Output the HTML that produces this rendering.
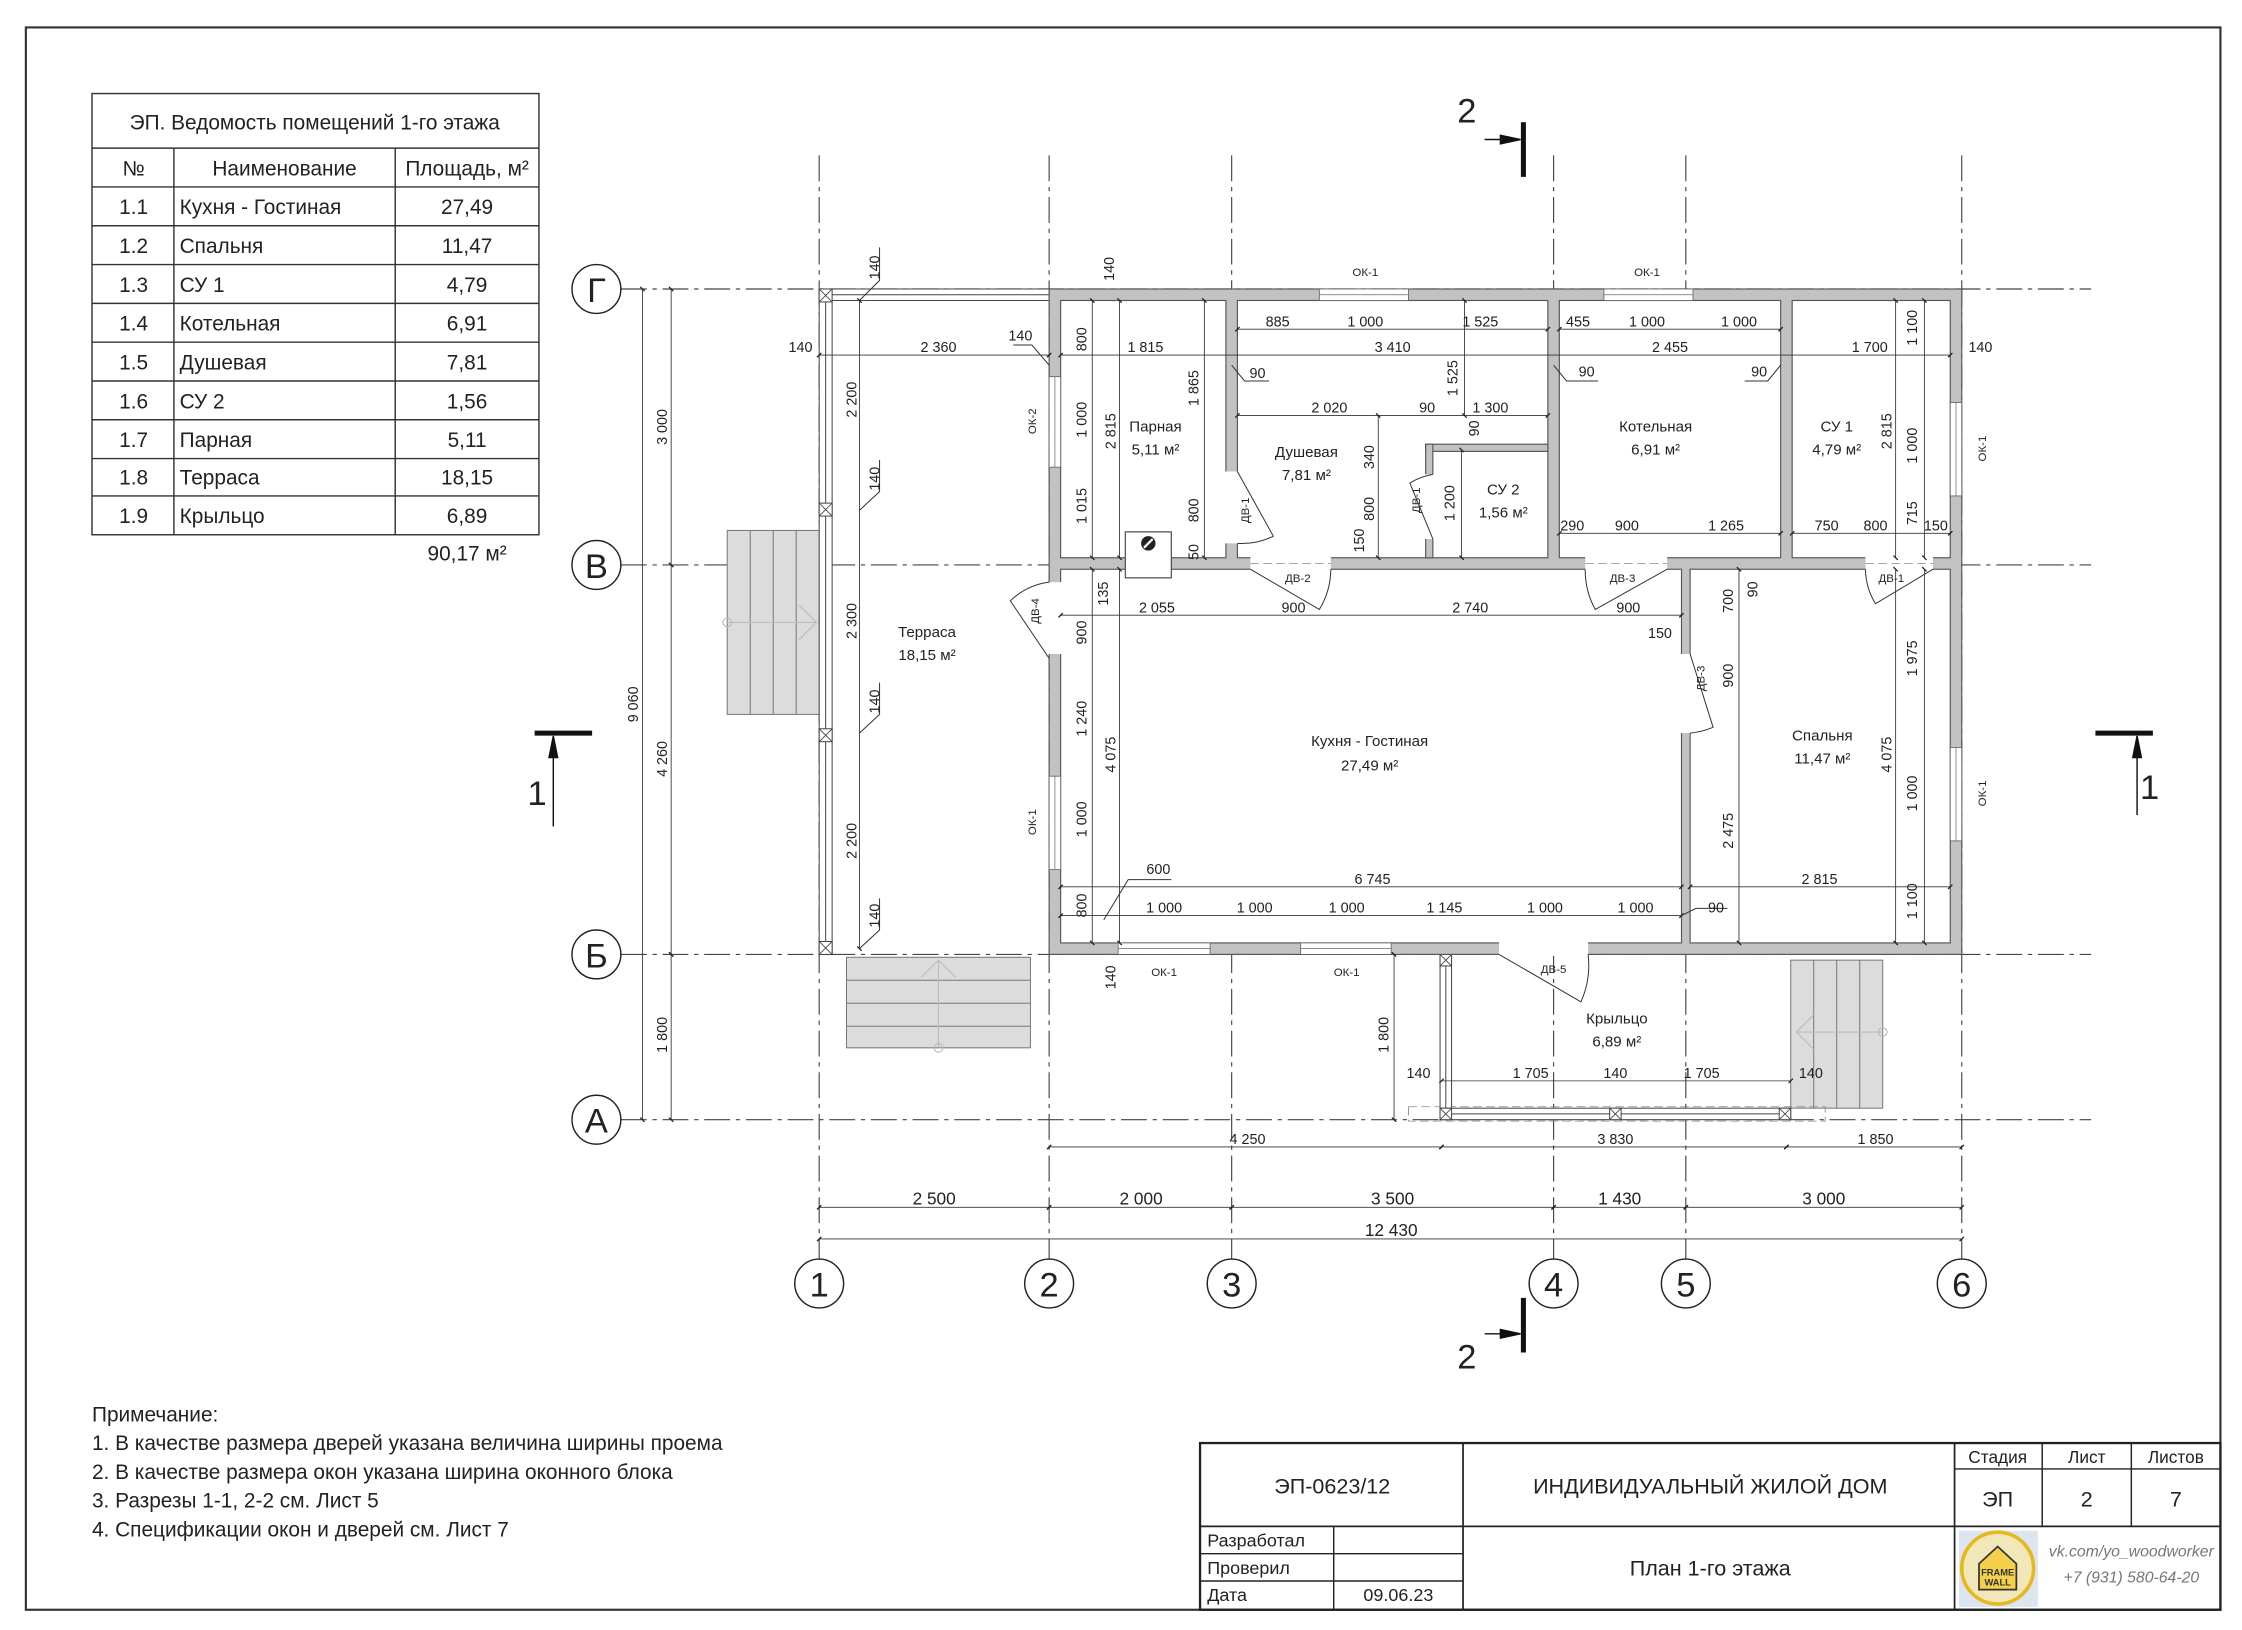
<!DOCTYPE html>
<html><head><meta charset="utf-8"><style>
html,body{margin:0;padding:0;background:#fff}
svg{display:block}
text{font-family:"Liberation Sans Narrow","Liberation Sans",sans-serif;fill:#222}
.d{font-size:10px;text-anchor:middle}
.r{font-size:10.5px;fill:#2a2a90;text-anchor:middle}
.dl{stroke:#333;stroke-width:.6;fill:none;marker-start:url(#t);marker-end:url(#t)}
.ax{stroke:#444;stroke-width:.8;stroke-dasharray:18 4 3 4;fill:none}
.th{stroke:#333;stroke-width:.7;fill:none}
.w{fill:#c2c2c2;stroke:#555;stroke-width:.8}
.rm{fill:#fff;stroke:#555;stroke-width:.8}
.op{fill:#fff;stroke:#666;stroke-width:.6}
.dr{fill:none;stroke:#333;stroke-width:.7}
.c{fill:#fff;stroke:#222;stroke-width:1}
.cl{font-size:24px;text-anchor:middle}
.tb{font-size:14px}
</style></head><body>
<svg width="2242" height="1630" viewBox="0 0 1560 1134" xmlns="http://www.w3.org/2000/svg">
<defs><marker id="t" markerUnits="userSpaceOnUse" markerWidth="6" markerHeight="6" refX="3" refY="3" orient="auto"><path d="M1.5,4.5 L4.5,1.5" stroke="#222" stroke-width="0.9"/></marker></defs>
<rect x="18" y="19" width="1527" height="1101" fill="none" stroke="#333" stroke-width="1.5"/>

<!-- table -->
<g stroke="#333" stroke-width="1" fill="none">
<rect x="64" y="65" width="311" height="307"/>
<line x1="64" y1="103" x2="375" y2="103"/>
<line x1="121" y1="103" x2="121" y2="372"/><line x1="275" y1="103" x2="275" y2="372"/>
<line x1="64" y1="130" x2="375" y2="130"/><line x1="64" y1="157" x2="375" y2="157"/><line x1="64" y1="184" x2="375" y2="184"/><line x1="64" y1="211" x2="375" y2="211"/><line x1="64" y1="238" x2="375" y2="238"/><line x1="64" y1="265" x2="375" y2="265"/><line x1="64" y1="292" x2="375" y2="292"/><line x1="64" y1="319" x2="375" y2="319"/><line x1="64" y1="345" x2="375" y2="345"/>
</g>
<g font-size="14.5">
<text x="219" y="90" text-anchor="middle">ЭП. Ведомость помещений 1-го этажа</text>
<text x="93" y="122" text-anchor="middle">№</text><text x="198" y="122" text-anchor="middle">Наименование</text><text x="325" y="122" text-anchor="middle">Площадь, м²</text>
<g text-anchor="middle"><text x="93" y="149">1.1</text><text x="93" y="176">1.2</text><text x="93" y="203">1.3</text><text x="93" y="230">1.4</text><text x="93" y="257">1.5</text><text x="93" y="284">1.6</text><text x="93" y="311">1.7</text><text x="93" y="337">1.8</text><text x="93" y="364">1.9</text>
<text x="325" y="149">27,49</text><text x="325" y="176">11,47</text><text x="325" y="203">4,79</text><text x="325" y="230">6,91</text><text x="325" y="257">7,81</text><text x="325" y="284">1,56</text><text x="325" y="311">5,11</text><text x="325" y="337">18,15</text><text x="325" y="364">6,89</text>
<text x="325" y="390">90,17 м²</text></g>
<text x="125" y="149">Кухня - Гостиная</text><text x="125" y="176">Спальня</text><text x="125" y="203">СУ 1</text><text x="125" y="230">Котельная</text><text x="125" y="257">Душевая</text><text x="125" y="284">СУ 2</text><text x="125" y="311">Парная</text><text x="125" y="337">Терраса</text><text x="125" y="364">Крыльцо</text>
</g>

<!-- axes -->
<g class="ax">
<line x1="570" y1="108" x2="570" y2="876"/><line x1="730" y1="108" x2="730" y2="876"/><line x1="857" y1="108" x2="857" y2="876"/><line x1="1081" y1="108" x2="1081" y2="876"/><line x1="1173" y1="108" x2="1173" y2="876"/><line x1="1365" y1="108" x2="1365" y2="876"/>
<line x1="432" y1="201" x2="1455" y2="201"/><line x1="432" y1="393" x2="1455" y2="393"/><line x1="432" y1="664" x2="1455" y2="664"/><line x1="432" y1="779" x2="1455" y2="779"/>
</g>
<g><circle class="c" cx="570" cy="893" r="17"/><circle class="c" cx="730" cy="893" r="17"/><circle class="c" cx="857" cy="893" r="17"/><circle class="c" cx="1081" cy="893" r="17"/><circle class="c" cx="1173" cy="893" r="17"/><circle class="c" cx="1365" cy="893" r="17"/>
<circle class="c" cx="415" cy="201" r="17"/><circle class="c" cx="415" cy="393" r="17"/><circle class="c" cx="415" cy="664" r="17"/><circle class="c" cx="415" cy="779" r="17"/></g>
<g class="cl"><text x="570" y="902">1</text><text x="730" y="902">2</text><text x="857" y="902">3</text><text x="1081" y="902">4</text><text x="1173" y="902">5</text><text x="1365" y="902">6</text>
<text x="415" y="210">Г</text><text x="415" y="402">В</text><text x="415" y="673">Б</text><text x="415" y="788">А</text></g>

<!-- section marks -->
<g stroke="#111" fill="#111">
<line x1="1060" y1="85" x2="1060" y2="123" stroke-width="3.5"/><line x1="1033" y1="97" x2="1058" y2="97" stroke-width="1"/><path d="M1058,97 L1044,94 L1044,100Z"/>
<line x1="1060" y1="903" x2="1060" y2="941" stroke-width="3.5"/><line x1="1033" y1="928" x2="1058" y2="928" stroke-width="1"/><path d="M1058,928 L1044,925 L1044,931Z"/>
<line x1="372" y1="510" x2="412" y2="510" stroke-width="3.5"/><line x1="385" y1="512" x2="385" y2="575" stroke-width="1"/><path d="M385,512 L382,527 L388,527Z"/>
<line x1="1458" y1="510" x2="1498" y2="510" stroke-width="3.5"/><line x1="1487" y1="512" x2="1487" y2="567" stroke-width="1"/><path d="M1487,512 L1484,527 L1490,527Z"/>
</g>
<g font-size="24"><text x="1014" y="85">2</text><text x="1014" y="952">2</text><text x="367" y="560">1</text><text x="1489" y="556">1</text></g>

<!-- stairs -->
<g fill="#dcdcdc" stroke="#777" stroke-width=".7">
<rect x="506" y="369" width="64" height="128"/><line x1="522" y1="369" x2="522" y2="497"/><line x1="538" y1="369" x2="538" y2="497"/><line x1="554" y1="369" x2="554" y2="497"/>
<rect x="589" y="666" width="128" height="63"/><line x1="589" y1="682" x2="717" y2="682"/><line x1="589" y1="698" x2="717" y2="698"/><line x1="589" y1="714" x2="717" y2="714"/>
<rect x="1246" y="668" width="64" height="103"/><line x1="1262" y1="668" x2="1262" y2="771"/><line x1="1278" y1="668" x2="1278" y2="771"/><line x1="1294" y1="668" x2="1294" y2="771"/>
</g>
<g stroke="#bbb" stroke-width=".8" fill="none"><line x1="506" y1="433" x2="568" y2="433"/><path d="M556,421 L568,433 L556,445"/><circle cx="506" cy="433" r="3"/>
<line x1="653" y1="668" x2="653" y2="729"/><path d="M641,680 L653,668 L665,680"/><circle cx="653" cy="729" r="3"/>
<line x1="1250" y1="718" x2="1310" y2="718"/><path d="M1262,706 L1250,718 L1262,730"/><circle cx="1310" cy="718" r="3"/></g>

<!-- terrace railing -->
<g stroke="#444" stroke-width=".7" fill="#fff">
<rect x="570" y="201" width="9" height="463"/><line x1="574.5" y1="201" x2="574.5" y2="664"/>
<rect x="570" y="201" width="160" height="8"/><line x1="570" y1="205" x2="730" y2="205"/>
<rect x="570" y="201" width="9" height="9"/><rect x="570" y="350" width="9" height="9"/><rect x="570" y="507" width="9" height="9"/><rect x="570" y="655" width="9" height="9"/>
</g>
<g stroke="#444" stroke-width=".6"><path d="M570,201l9,9M579,201l-9,9M570,350l9,9M579,350l-9,9M570,507l9,9M579,507l-9,9M570,655l9,9M579,655l-9,9"/></g>

<!-- porch railing -->
<rect x="980" y="770" width="290" height="10" fill="none" stroke="#888" stroke-width=".6" stroke-dasharray="6 3"/>
<g stroke="#444" stroke-width=".7" fill="#fff">
<rect x="1002" y="664" width="8" height="115"/><line x1="1006" y1="664" x2="1006" y2="779"/>
<rect x="1002" y="771" width="244" height="8"/><line x1="1002" y1="775" x2="1246" y2="775"/>
<rect x="1002" y="664" width="8" height="8"/><rect x="1002" y="771" width="8" height="8"/><rect x="1120" y="771" width="8" height="8"/><rect x="1238" y="771" width="8" height="8"/>
</g>
<g stroke="#444" stroke-width=".6"><path d="M1002,664l8,8M1010,664l-8,8M1002,771l8,8M1010,771l-8,8M1120,771l8,8M1128,771l-8,8M1238,771l8,8M1246,771l-8,8"/></g>

<!-- building walls -->
<rect class="w" x="730" y="201" width="635" height="463"/>
<rect class="rm" x="738" y="209" width="115" height="179"/>
<rect class="rm" x="861" y="209" width="216" height="179"/>
<rect class="rm" x="1085" y="209" width="154" height="179"/>
<rect class="rm" x="1247" y="209" width="110" height="179"/>
<rect class="rm" x="738" y="396" width="432" height="260"/>
<rect class="rm" x="1176" y="396" width="181" height="260"/>
<rect class="w" x="992" y="309" width="85" height="5"/><rect class="w" x="992" y="309" width="5" height="79"/>
<!-- openings -->
<g class="op">
<rect x="918" y="201" width="62" height="8"/><rect x="1116" y="201" width="62" height="8"/>
<rect x="730" y="262" width="8" height="63"/><rect x="730" y="540" width="8" height="65"/>
<rect x="1357" y="280" width="8" height="65"/><rect x="1357" y="520" width="8" height="65"/>
<rect x="778" y="656" width="64" height="8"/><rect x="905" y="656" width="63" height="8"/>
</g>
<g stroke="#666" stroke-width=".5"><path d="M918,205H980M1116,205H1178M734,262V325M734,540V605M1361,280V345M1361,520V585M778,660H842M905,660H968"/></g>
<g fill="#fff" stroke="none">
<rect x="729" y="405" width="10" height="50"/><rect x="1043" y="655" width="62" height="10"/>
<rect x="870" y="387" width="56" height="10"/><rect x="1103" y="387" width="57" height="10"/><rect x="1298" y="387" width="47" height="10"/>
<rect x="852" y="328" width="10" height="50"/><rect x="991" y="330" width="7" height="45"/><rect x="1169" y="455" width="8" height="55"/>
</g>
<g stroke="#999" stroke-width=".6" stroke-dasharray="6 3"><path d="M870,392H926M1103,392H1160M1298,392H1345"/></g>
<!-- stove -->
<rect x="783" y="370" width="32" height="32" fill="#fff" stroke="#444" stroke-width=".8"/><circle cx="799" cy="378" r="5" fill="#222"/><path d="M796,381 L802,375" stroke="#fff" stroke-width="1.5"/>
<!-- doors -->
<g class="dr">
<path d="M730,458 L703,418 A48,48 0 0 1 730,405"/>
<path d="M870,396 L918,424 A55,55 0 0 0 926,396"/>
<path d="M1160,396 L1110,424 A57,57 0 0 1 1103,396"/>
<path d="M1345,396 L1305,420 A47,47 0 0 1 1298,396"/>
<path d="M861,328 L886,373 A50,50 0 0 1 861,378"/>
<path d="M997,375 L981,336 A45,45 0 0 1 997,330"/>
<path d="M1176,455 L1192,506 A55,55 0 0 1 1176,510"/>
<path d="M1043,664 L1100,697 A62,62 0 0 0 1105,664"/>
</g>

<!-- dimension lines -->
<g class="dl">
<line x1="447" y1="201" x2="447" y2="779"/><line x1="467" y1="201" x2="467" y2="393"/><line x1="467" y1="393" x2="467" y2="664"/><line x1="467" y1="664" x2="467" y2="779"/>
<line x1="730" y1="798" x2="1003" y2="798"/><line x1="1003" y1="798" x2="1243" y2="798"/><line x1="1243" y1="798" x2="1365" y2="798"/>
<line x1="570" y1="840" x2="730" y2="840"/><line x1="730" y1="840" x2="857" y2="840"/><line x1="857" y1="840" x2="1081" y2="840"/><line x1="1081" y1="840" x2="1173" y2="840"/><line x1="1173" y1="840" x2="1365" y2="840"/>
<line x1="570" y1="862" x2="1365" y2="862"/>
<line x1="570" y1="247" x2="730" y2="247"/><line x1="598" y1="209" x2="598" y2="660"/>
<line x1="738" y1="247" x2="1357" y2="247"/>
<line x1="861" y1="229" x2="1077" y2="229"/><line x1="1085" y1="229" x2="1239" y2="229"/>
<line x1="861" y1="289" x2="1077" y2="289"/><line x1="1085" y1="371" x2="1239" y2="371"/><line x1="1247" y1="371" x2="1357" y2="371"/>
<line x1="760" y1="209" x2="760" y2="388"/><line x1="779" y1="209" x2="779" y2="388"/><line x1="838" y1="209" x2="838" y2="388"/>
<line x1="959" y1="289" x2="959" y2="388"/><line x1="1017" y1="313" x2="1017" y2="388"/><line x1="1019" y1="209" x2="1019" y2="289"/>
<line x1="1319" y1="209" x2="1319" y2="388"/><line x1="1339" y1="209" x2="1339" y2="388"/>
<line x1="738" y1="428" x2="1170" y2="428"/><line x1="738" y1="617" x2="1170" y2="617"/><line x1="738" y1="637" x2="1170" y2="637"/>
<line x1="1176" y1="617" x2="1357" y2="617"/>
<line x1="760" y1="396" x2="760" y2="656"/><line x1="779" y1="396" x2="779" y2="656"/>
<line x1="1210" y1="396" x2="1210" y2="656"/><line x1="1319" y1="396" x2="1319" y2="656"/><line x1="1339" y1="396" x2="1339" y2="656"/>
<line x1="1003" y1="752" x2="1246" y2="752"/><line x1="970" y1="664" x2="970" y2="779"/>
</g>
<g class="th"><path d="M598,209 L612,195V172M598,355 L612,342V320M598,510 L612,497V475M598,660 L612,647V625M705,240H718L730,254M768,640L785,612H815M1170,637L1180,632H1202M857,254L866,265H883M1081,254L1090,265H1112M1239,254L1230,265H1214"/></g>

<!-- dim texts -->
<g class="d">
<text transform="translate(464,297) rotate(-90)">3 000</text><text transform="translate(444,490) rotate(-90)">9 060</text><text transform="translate(464,528) rotate(-90)">4 260</text><text transform="translate(464,720) rotate(-90)">1 800</text>
<text x="868" y="796">4 250</text><text x="1124" y="796">3 830</text><text x="1305" y="796">1 850</text>
<text x="650" y="838" font-size="12">2 500</text><text x="794" y="838" font-size="12">2 000</text><text x="969" y="838" font-size="12">3 500</text><text x="1127" y="838" font-size="12">1 430</text><text x="1269" y="838" font-size="12">3 000</text><text x="968" y="860" font-size="12">12 430</text>
<text x="557" y="245">140</text><text x="653" y="245">2 360</text><text x="710" y="237">140</text>
<text transform="translate(612,186) rotate(-90)">140</text><text transform="translate(612,333) rotate(-90)">140</text><text transform="translate(612,488) rotate(-90)">140</text><text transform="translate(612,637) rotate(-90)">140</text>
<text transform="translate(596,278) rotate(-90)">2 200</text><text transform="translate(596,432) rotate(-90)">2 300</text><text transform="translate(596,585) rotate(-90)">2 200</text>
<text transform="translate(775,187) rotate(-90)">140</text>
<text x="950" y="192" font-size="8">ОК-1</text><text x="1146" y="192" font-size="8">ОК-1</text>
<text transform="translate(721,293) rotate(-90)" font-size="8">ОК-2</text><text transform="translate(723,425) rotate(-90)" font-size="8">ДВ-4</text><text transform="translate(721,572) rotate(-90)" font-size="8">ОК-1</text>
<text transform="translate(1382,312) rotate(-90)" font-size="8">ОК-1</text><text transform="translate(1382,552) rotate(-90)" font-size="8">ОК-1</text>
<text transform="translate(756,236) rotate(-90)">800</text><text transform="translate(756,292) rotate(-90)">1 000</text><text transform="translate(756,352) rotate(-90)">1 015</text><text transform="translate(776,300) rotate(-90)">2 815</text>
<text x="797" y="245">1 815</text><text transform="translate(834,270) rotate(-90)">1 865</text><text transform="translate(834,355) rotate(-90)">800</text><text transform="translate(834,384) rotate(-90)">50</text>
<text x="889" y="227">885</text><text x="950" y="227">1 000</text><text x="1030" y="227">1 525</text><text x="969" y="245">3 410</text>
<text x="875" y="263">90</text><text transform="translate(1014,263) rotate(-90)">1 525</text>
<text x="925" y="287">2 020</text><text x="993" y="287">90</text><text x="1037" y="287">1 300</text><text transform="translate(1029,298) rotate(-90)">90</text>
<text transform="translate(956,318) rotate(-90)">340</text><text transform="translate(956,354) rotate(-90)">800</text><text transform="translate(949,376) rotate(-90)">150</text><text transform="translate(1012,350) rotate(-90)">1 200</text>
<text transform="translate(869,355) rotate(-90)" font-size="8">ДВ-1</text><text transform="translate(988,348) rotate(-90)" font-size="8">ДВ-1</text>
<text x="1098" y="227">455</text><text x="1146" y="227">1 000</text><text x="1210" y="227">1 000</text><text x="1162" y="245">2 455</text>
<text x="1104" y="262">90</text><text x="1224" y="262">90</text>
<text x="1094" y="369">290</text><text x="1132" y="369">900</text><text x="1201" y="369">1 265</text>
<text x="1301" y="245">1 700</text><text x="1378" y="245">140</text>
<text transform="translate(1334,228) rotate(-90)">1 100</text><text transform="translate(1316,300) rotate(-90)">2 815</text><text transform="translate(1334,310) rotate(-90)">1 000</text><text transform="translate(1334,357) rotate(-90)">715</text>
<text x="1271" y="369">750</text><text x="1305" y="369">800</text><text x="1347" y="369">150</text>
<text x="903" y="405" font-size="8">ДВ-2</text><text x="1129" y="405" font-size="8">ДВ-3</text><text x="1316" y="405" font-size="8">ДВ-1</text>
<text transform="translate(771,413) rotate(-90)">135</text><text x="805" y="426">2 055</text><text x="900" y="426">900</text><text x="1023" y="426">2 740</text><text x="1133" y="426">900</text><text x="1155" y="444">150</text>
<text transform="translate(1206,418) rotate(-90)">700</text><text transform="translate(1223,410) rotate(-90)">90</text>
<text transform="translate(756,440) rotate(-90)">900</text><text transform="translate(756,500) rotate(-90)">1 240</text><text transform="translate(776,525) rotate(-90)">4 075</text><text transform="translate(756,570) rotate(-90)">1 000</text><text transform="translate(756,630) rotate(-90)">800</text>
<text x="806" y="608">600</text><text x="955" y="615">6 745</text>
<text x="810" y="635">1 000</text><text x="873" y="635">1 000</text><text x="937" y="635">1 000</text><text x="1005" y="635">1 145</text><text x="1075" y="635">1 000</text><text x="1138" y="635">1 000</text>
<text transform="translate(1186,472) rotate(-90)" font-size="8">ДВ-3</text><text transform="translate(1206,470) rotate(-90)">900</text><text transform="translate(1206,578) rotate(-90)">2 475</text>
<text transform="translate(1334,458) rotate(-90)">1 975</text><text transform="translate(1316,525) rotate(-90)">4 075</text><text transform="translate(1334,552) rotate(-90)">1 000</text><text transform="translate(1334,627) rotate(-90)">1 100</text>
<text x="1266" y="615">2 815</text><text x="1194" y="635">90</text>
<text transform="translate(776,680) rotate(-90)">140</text><text x="810" y="679" font-size="8">ОК-1</text><text x="937" y="679" font-size="8">ОК-1</text><text x="1081" y="677" font-size="8">ДВ-5</text>
<text transform="translate(966,720) rotate(-90)">1 800</text>
<text x="987" y="750">140</text><text x="1065" y="750">1 705</text><text x="1124" y="750">140</text><text x="1184" y="750">1 705</text><text x="1260" y="750">140</text>
</g>
<g class="r">
<text x="645" y="443">Терраса</text><text x="645" y="459">18,15 м²</text>
<text x="804" y="300">Парная</text><text x="804" y="316">5,11 м²</text>
<text x="909" y="318">Душевая</text><text x="909" y="334">7,81 м²</text>
<text x="1046" y="344">СУ 2</text><text x="1046" y="360">1,56 м²</text>
<text x="1152" y="300">Котельная</text><text x="1152" y="316">6,91 м²</text>
<text x="1278" y="300">СУ 1</text><text x="1278" y="316">4,79 м²</text>
<text x="953" y="519">Кухня - Гостиная</text><text x="953" y="536">27,49 м²</text>
<text x="1268" y="515">Спальня</text><text x="1268" y="531">11,47 м²</text>
<text x="1125" y="712">Крыльцо</text><text x="1125" y="728">6,89 м²</text>
</g>

<!-- notes -->
<g font-size="14.5"><text x="64" y="989">Примечание:</text>
<text x="64" y="1009">1. В качестве размера дверей указана величина ширины проема</text>
<text x="64" y="1029">2. В качестве размера окон указана ширина оконного блока</text>
<text x="64" y="1049">3. Разрезы 1-1, 2-2 см. Лист 5</text>
<text x="64" y="1069">4. Спецификации окон и дверей см. Лист 7</text></g>

<!-- title block -->
<g stroke="#222" fill="none">
<rect x="835" y="1004" width="710" height="116" stroke-width="1.6"/>
<line x1="1018" y1="1004" x2="1018" y2="1120" stroke-width="1.2"/><line x1="1360" y1="1004" x2="1360" y2="1120" stroke-width="1.2"/>
<line x1="1421" y1="1004" x2="1421" y2="1062"/><line x1="1483" y1="1004" x2="1483" y2="1062"/>
<line x1="1360" y1="1022" x2="1545" y2="1022"/><line x1="835" y1="1062" x2="1545" y2="1062" stroke-width="1.2"/>
<line x1="835" y1="1081" x2="1018" y2="1081"/><line x1="835" y1="1100" x2="1018" y2="1100"/><line x1="928" y1="1062" x2="928" y2="1120"/>
</g>
<g class="tb">
<text x="927" y="1039" text-anchor="middle" font-size="15">ЭП-0623/12</text>
<text x="1190" y="1039" text-anchor="middle" font-size="15">ИНДИВИДУАЛЬНЫЙ ЖИЛОЙ ДОМ</text>
<text x="1390" y="1018" text-anchor="middle" font-size="12">Стадия</text><text x="1452" y="1018" text-anchor="middle" font-size="12">Лист</text><text x="1514" y="1018" text-anchor="middle" font-size="12">Листов</text>
<text x="1390" y="1048" text-anchor="middle" font-size="15">ЭП</text><text x="1452" y="1048" text-anchor="middle" font-size="15">2</text><text x="1514" y="1048" text-anchor="middle" font-size="15">7</text>
<text x="840" y="1076" font-size="12.5">Разработал</text><text x="840" y="1095" font-size="12.5">Проверил</text><text x="840" y="1114" font-size="12.5">Дата</text><text x="973" y="1114" text-anchor="middle" font-size="12.5">09.06.23</text>
<text x="1190" y="1096" text-anchor="middle" font-size="15">План 1-го этажа</text>
</g>
<rect x="1363" y="1065" width="55" height="53" fill="#dbe6f0"/>
<circle cx="1390" cy="1091" r="25" fill="#f2e7b8" stroke="#e6b820" stroke-width="2.5"/>
<path d="M1377,1088 L1390,1076 L1403,1088 V1106 H1377Z" fill="#f5d04a" stroke="#333" stroke-width="1.2"/>
<text x="1390" y="1096" font-size="6.5" text-anchor="middle" font-weight="bold" style="fill:#333">FRAME</text><text x="1390" y="1103" font-size="6.5" text-anchor="middle" font-weight="bold" style="fill:#333">WALL</text>
<text x="1483" y="1083" text-anchor="middle" font-size="11" font-style="italic" style="fill:#777">vk.com/yo_woodworker</text>
<text x="1483" y="1101" text-anchor="middle" font-size="11" font-style="italic" style="fill:#777">+7 (931) 580-64-20</text>
</svg>
</body></html>
